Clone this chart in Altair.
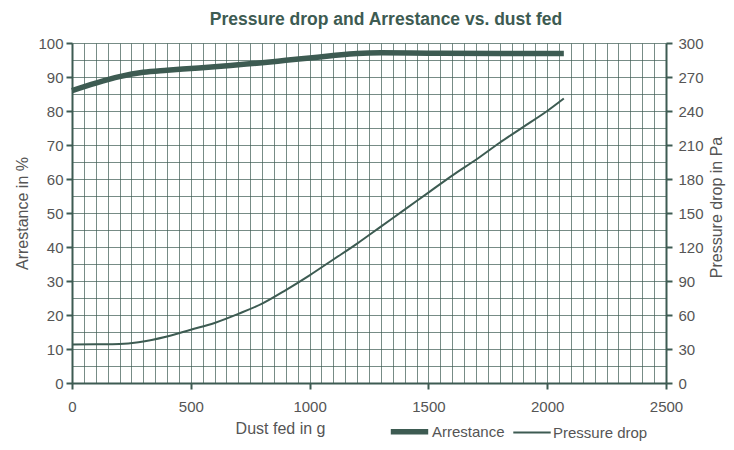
import altair as alt
import pandas as pd

# ---- data ----
dust_arr = [0, 100, 200, 300, 400, 500, 600, 700, 800, 900, 1000, 1100, 1200, 1300, 1500, 1800, 2070]
arrestance = [86.0, 88.2, 90.1, 91.4, 92.0, 92.5, 93.0, 93.6, 94.2, 94.9, 95.6, 96.3, 96.9, 97.1, 97.0, 96.9, 96.9]

dust_pd = [0, 100, 200, 280, 400, 500, 600, 700, 800, 900, 1000, 1100, 1200, 1300, 1400, 1500,
           1600, 1700, 1800, 1900, 2000, 2070]
pressure = [34, 34.2, 34.5, 36, 41, 47, 53, 61, 70, 82, 95, 109, 123, 138, 153, 168,
            183, 197, 212, 226, 240, 251]

series_names = ["Arrestance", "Pressure drop"]
y_right_ticks = list(range(0, 301, 30))

INK = "#3d5b52"
LABEL = "#555555"
FONT = "Liberation Sans"

df_a = pd.DataFrame({"dust": dust_arr, "value": arrestance, "series": series_names[0]})
df_p = pd.DataFrame({"dust": dust_pd, "value": pressure, "series": series_names[1]})

x_enc = alt.X(
    "dust:Q",
    scale=alt.Scale(domain=[0, 2500], nice=False),
    axis=alt.Axis(
        values=list(range(0, 2501, 50)),
        format="d",
        labelExpr="datum.value % 500 === 0 ? datum.label : ''",
        tickOpacity={"condition": {"test": "datum.value % 500 === 0", "value": 1}, "value": 0},
        grid=True, gridColor=INK, gridWidth=1, gridOpacity=0.7,
        domainColor=INK, domainWidth=2, tickColor=INK, tickWidth=2, tickSize=6,
        labelFontSize=15, labelColor=LABEL, labelFont=FONT, labelPadding=10,
        labelFlush=False, labelOverlap=False,
        title="Dust fed in g", titleFontSize=16, titleFontWeight="normal", titleColor=LABEL,
        titleFont=FONT, titleX=208, titleY=45, titleBaseline="middle",
    ),
)

legend_opts = dict(
    title=None, orient="none", legendX=316, legendY=367, direction="horizontal",
    symbolType="stroke", symbolSize=1400, labelFontSize=15, labelColor=LABEL,
    labelFont=FONT, labelOffset=1, columnPadding=4,
)

color_enc = alt.Color(
    "series:N",
    scale=alt.Scale(domain=series_names, range=[INK, INK]),
    legend=alt.Legend(**legend_opts),
)
sw_enc = alt.StrokeWidth(
    "series:N",
    scale=alt.Scale(domain=series_names, range=[5.5, 2]),
    legend=alt.Legend(**legend_opts),
)

left = alt.Chart(df_a).mark_line(interpolate="monotone").encode(
    x=x_enc,
    y=alt.Y(
        "value:Q",
        scale=alt.Scale(domain=[0, 100], nice=False),
        axis=alt.Axis(
            orient="left",
            values=list(range(0, 101, 5)),
            labelExpr="datum.value % 10 === 0 ? datum.label : ''",
            tickOpacity={"condition": {"test": "datum.value % 10 === 0", "value": 1}, "value": 0},
            grid=True, gridColor=INK, gridWidth=1, gridOpacity=0.7,
            domainColor=INK, domainWidth=2, tickColor=INK, tickWidth=2, tickSize=6,
            labelFontSize=15, labelColor=LABEL, labelFont=FONT, labelPadding=3,
            labelOverlap=False,
            title="Arrestance in %", titleFontSize=16, titleFontWeight="normal",
            titleColor=LABEL, titleFont=FONT, titleX=-50, titleY=170,
            titleBaseline="middle", titleAngle=270,
        ),
    ),
    color=color_enc,
    strokeWidth=sw_enc,
)

right = alt.Chart(df_p).mark_line(interpolate="monotone").encode(
    x=x_enc,
    y=alt.Y(
        "value:Q",
        scale=alt.Scale(domain=[0, 300], nice=False),
        axis=alt.Axis(
            orient="right",
            values=y_right_ticks,
            grid=False,
            domainColor=INK, domainWidth=2, tickColor=INK, tickWidth=2, tickSize=6,
            labelFontSize=15, labelColor=LABEL, labelFont=FONT, labelPadding=6,
            labelOverlap=False,
            title="Pressure drop in Pa", titleFontSize=16, titleFontWeight="normal",
            titleColor=LABEL, titleFont=FONT, titleX=50, titleY=164,
            titleBaseline="middle", titleAngle=270,
        ),
    ),
    color=color_enc,
    strokeWidth=sw_enc,
)

chart = (
    alt.layer(left, right)
    .resolve_scale(y="independent")
    .properties(
        width=594,
        height=340,
        autosize=alt.AutoSizeParams(type="none"),
        padding={"left": 64, "top": 35, "right": 60, "bottom": 59},
        background="white",
        title=alt.TitleParams(
            "Pressure drop and Arrestance vs. dust fed",
            fontSize=17.5, font=FONT, fontWeight="bold", color=INK,
            anchor="middle", dx=17, offset=8,
        ),
    )
    .configure_view(stroke="transparent")
)

chart.save("out.html", embed_options={"renderer": "svg", "actions": False})
